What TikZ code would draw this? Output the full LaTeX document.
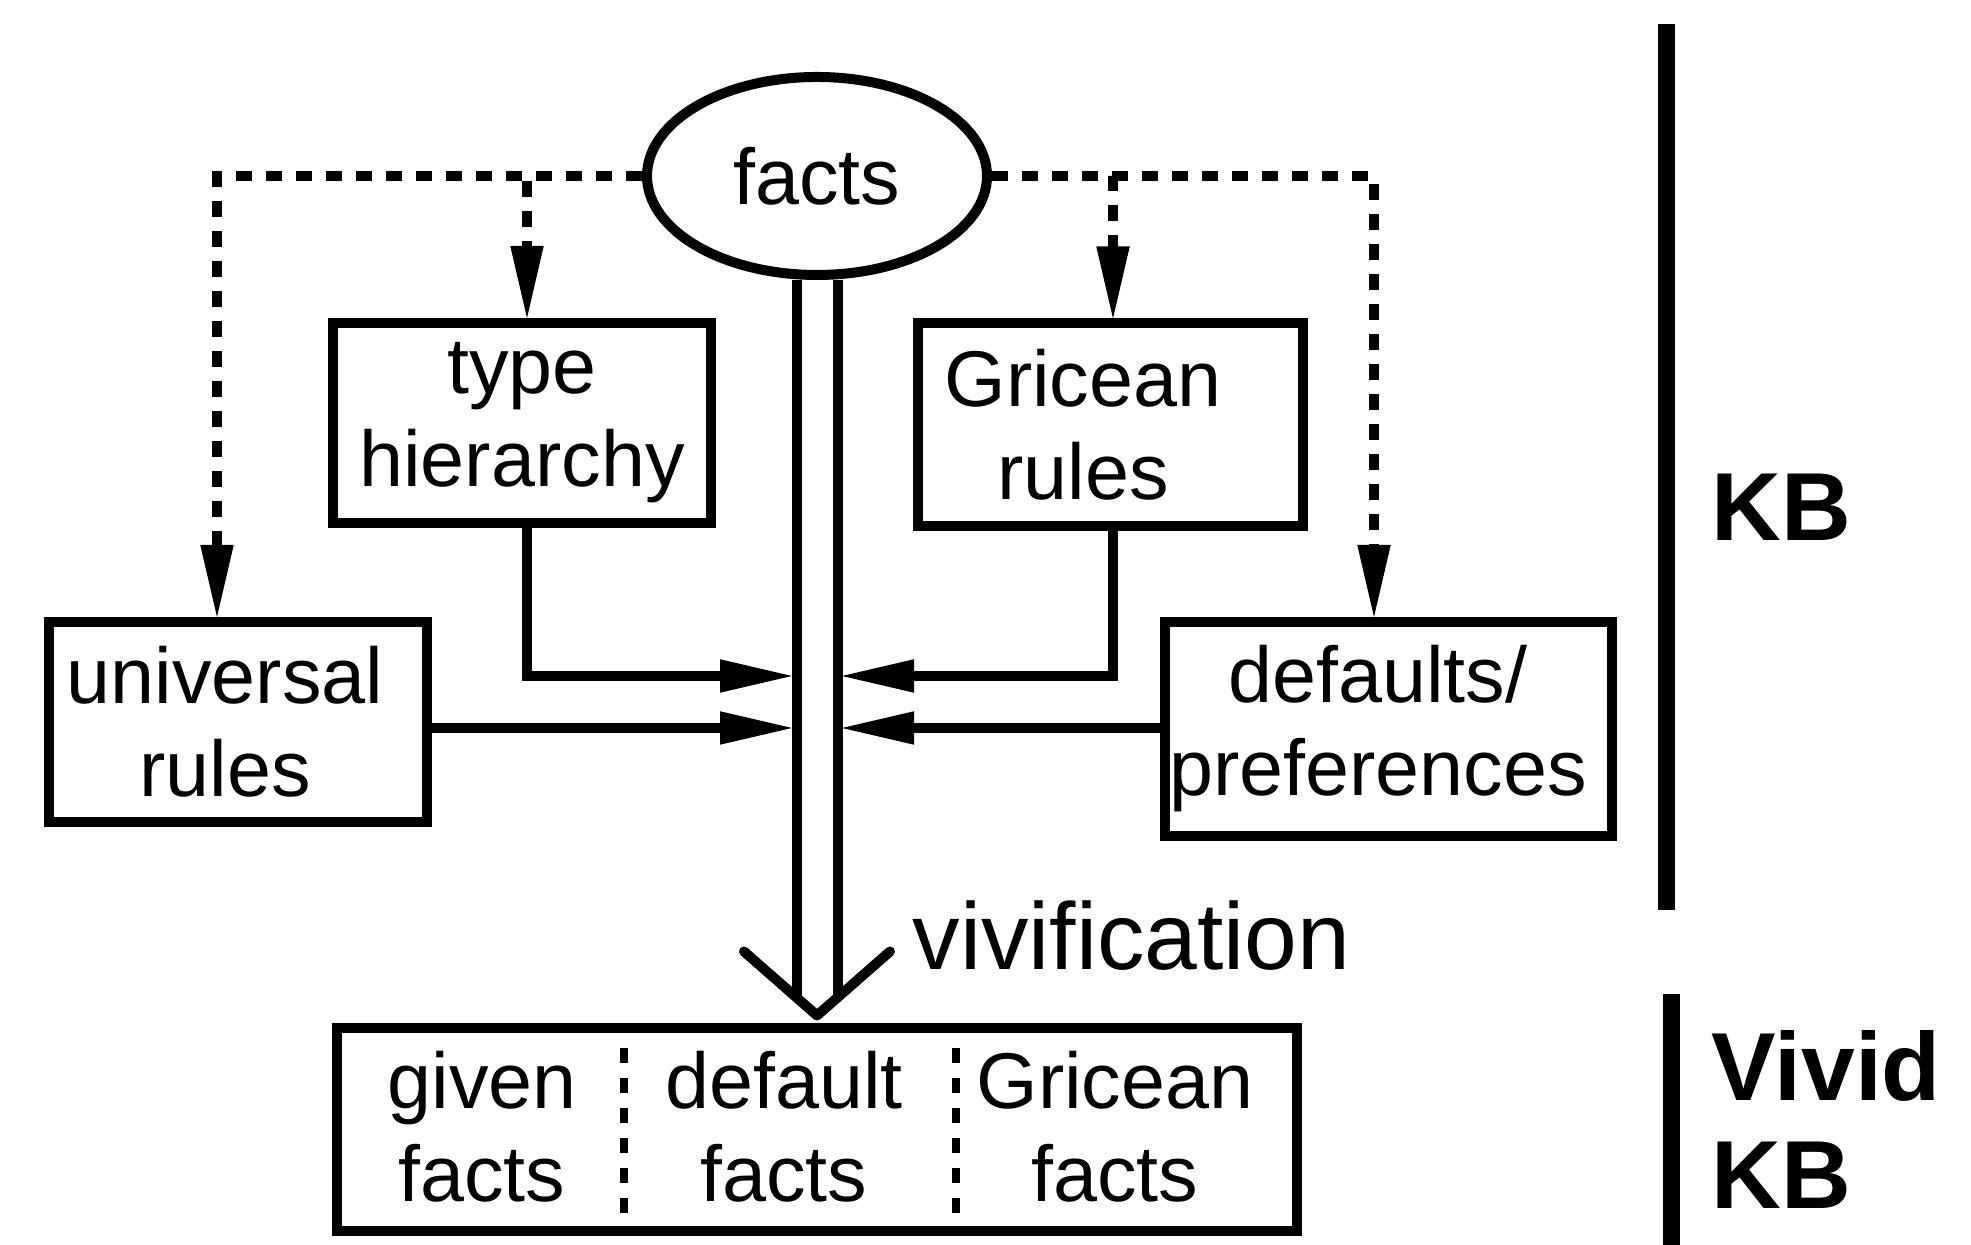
\documentclass[tikz,border=0pt]{standalone}
\usepackage{fontspec}
\setmainfont{Liberation Sans}
\usetikzlibrary{shapes.geometric, arrows.meta}

\begin{document}
\begin{tikzpicture}[
    box/.style={draw, line width=0.1cm, inner sep=0pt, align=center, font=\fontsize{22.5}{26.5}\selectfont},
    txt/.style={inner sep=0pt, align=center, font=\fontsize{22.5}{26.5}\selectfont},
    feed/.style={line width=0.1cm, -{Triangle[length=0.72cm, width=0.33cm, line width=0.5pt]}},
    hint/.style={feed, dash pattern=on 0.16cm off 0.14cm},
    split/.style={line width=0.08cm, dash pattern=on 0.15cm off 0.15cm},
    bar/.style={line width=0.17cm},
    side/.style={inner sep=0pt, anchor=west, align=left, font=\fontsize{27.5}{30.6}\selectfont\bfseries}
]
    \useasboundingbox (0,0) rectangle (19.71,12.45);
    % Facts and the rule boxes
        \node[box, ellipse, minimum width=3.4cm, minimum height=1.98cm] (facts) at (8.17,10.69) {facts};
        \node[box, minimum width=3.78cm, minimum height=2.0cm] (type) at (5.22,8.22) {type\\hierarchy};
        \node[box, minimum width=3.85cm, minimum height=2.03cm,
            label={[txt, xshift=-0.27cm]center:{Gricean\\rules}}] (gric) at (11.1,8.2) {};
        \node[box, minimum width=3.78cm, minimum height=2.0cm,
            label={[txt, xshift=-0.13cm]center:{universal\\rules}}] (univ) at (2.38,5.23) {};
        \node[box, minimum width=4.47cm, minimum height=2.14cm,
            label={[txt, xshift=-0.1cm]center:{defaults/\\preferences}}] (dflt) at (13.88,5.16) {};
        % Vivid KB box
        \node[box, minimum width=9.6cm, minimum height=2.03cm] (vivid) at (8.17,1.15) {};
        \node[txt] (given) at (4.82,1.18) {given\\facts};
        \node[txt] (dfacts) at (7.84,1.18) {default\\facts};
        \node[txt] (gfacts) at (11.15,1.18) {Gricean\\facts};
        \draw[split] ([xshift=-1.93cm,yshift=-0.25cm]vivid.north) -- ([xshift=-1.93cm,yshift=0.12cm]vivid.south);
        \draw[split] ([xshift=1.39cm,yshift=-0.25cm]vivid.north) -- ([xshift=1.39cm,yshift=0.05cm]vivid.south);
        % Dotted arrows from facts
        \draw[hint] (facts.west) -| ([xshift=-0.21cm]univ.north);
        \draw[hint] (facts.west) -| ([xshift=0.05cm]type.north);
        \draw[hint] (facts.east) -| ([xshift=0.03cm]gric.north);
        \draw[hint] (facts.east) -| ([xshift=-0.14cm]dflt.north);
        % Vivification shaft
        \draw[line width=0.1cm, double, double distance=0.31cm] (facts.south) -- ([yshift=0.27cm]vivid.north);
        \draw[line width=0.1cm, line cap=round, line join=round] ([xshift=-0.73cm,yshift=0.72cm]vivid.north) -- ([yshift=0.08cm]vivid.north) -- ([xshift=0.73cm,yshift=0.72cm]vivid.north);
        \node[anchor=base west, inner sep=0pt, font=\fontsize{27}{32}\selectfont] (vivi) at (9.12,2.75) {vivification};
        % Arrows into the shaft
        \coordinate (inTL) at (7.92,5.69);
        \coordinate (inBL) at (7.92,5.17);
        \coordinate (inTR) at (8.42,5.69);
        \coordinate (inBR) at (8.42,5.17);
        \draw[feed] ([xshift=0.05cm]type.south) |- (inTL);
        \draw[feed] (univ.east |- inBL) -- (inBL);
        \draw[feed] ([xshift=0.03cm]gric.south) |- (inTR);
        \draw[feed] (dflt.west |- inBR) -- (inBR);
        % KB markers
        \draw[bar] (16.66,12.21) -- (16.66,3.35);
        \node[side] (kb) at (17.11,7.38) {KB};
        \draw[bar] (16.71,2.51) -- (16.71,0);
        \node[side, anchor=north west] (vkb) at (17.11,2.15) {Vivid\\KB};
\end{tikzpicture}
\end{document}
